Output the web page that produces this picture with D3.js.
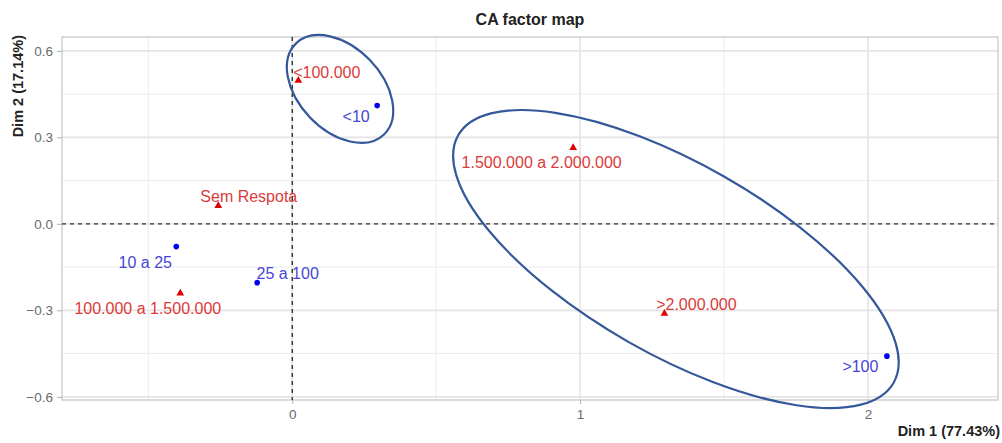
<!DOCTYPE html>
<html>
<head>
<meta charset="utf-8">
<script src="https://cdn.jsdelivr.net/npm/d3@7"></script>
<style>
  body { margin: 0; background: #fff; }
  svg { font-family: "Liberation Sans", Arial, sans-serif; }
  .tick-lbl { fill: #6b6b6b; font-size: 13.5px; }
  .pt-lbl { font-size: 16px; }
</style>
</head>
<body>
<svg id="chart" width="1002" height="443"></svg>
<script>
// rows (blue points)
var rowNames = ["<10", "10 a 25", "25 a 100", ">100"];
var rowX = [0.295, -0.403, -0.122, 2.066];
var rowY = [0.41, -0.079, -0.204, -0.459];

// columns (red triangles)
var colNames = ["<100.000", "Sem Respota", "100.000 a 1.500.000", "1.500.000 a 2.000.000", ">2.000.000"];
var colX = [0.021, -0.257, -0.389, 0.976, 1.293];
var colY = [0.497, 0.063, -0.241, 0.264, -0.311];

var xTicks = [0, 1, 2];
var yTicks = [-0.6, -0.3, 0.0, 0.3, 0.6];
var xMinor = [-0.5, 0.5, 1.5];
var yMinor = [-0.45, -0.15, 0.15, 0.45];

// hand-drawn ellipses, data units
var ellipseCx = [0.166, 1.333];
var ellipseCy = [0.468, -0.122];
var ellipseRx = [0.22, 0.87];
var ellipseRy = [0.144, 0.332];
var ellipseAngle = [46, 29.6];

// label nudges in px (centre x, baseline y) from the point
var rowNudge = [[-21, 16], [-31, 21], [30.5, -4], [-26.5, 16]];
var colNudge = [[28.5, -3], [30.5, -4], [-32.5, 21], [-31.5, 20], [32, -4]];

var svg = d3.select("#chart");
var panel = {left: 62, right: 998, top: 37, bottom: 400};

var x = d3.scaleLinear().domain([-0.8, 2.452]).range([panel.left, panel.right]);
var y = d3.scaleLinear().domain([-0.611, 0.648]).range([panel.bottom, panel.top]);

// grid
var grid = svg.append("g");
function vlines(vals, col, w) {
  grid.append("g").selectAll("line").data(vals).enter().append("line")
    .attr("x1", function(d) { return x(d); }).attr("x2", function(d) { return x(d); })
    .attr("y1", panel.top).attr("y2", panel.bottom)
    .style("stroke", col).style("stroke-width", w);
}
function hlines(vals, col, w) {
  grid.append("g").selectAll("line").data(vals).enter().append("line")
    .attr("y1", function(d) { return y(d); }).attr("y2", function(d) { return y(d); })
    .attr("x1", panel.left).attr("x2", panel.right)
    .style("stroke", col).style("stroke-width", w);
}
vlines(xMinor, "#ececec", 1);
hlines(yMinor, "#ececec", 1);
vlines(xTicks, "#e4e4e4", 1.6);
hlines(yTicks, "#e4e4e4", 1.6);

svg.append("rect")
  .attr("x", panel.left).attr("y", panel.top)
  .attr("width", panel.right - panel.left).attr("height", panel.bottom - panel.top)
  .style("fill", "none").style("stroke", "#c8c8c8").style("stroke-width", 1.3);

// axes
var yAxis = svg.append("g").attr("transform", "translate(" + panel.left + ",0)")
  .call(d3.axisLeft(y).tickValues(yTicks).tickFormat(d3.format(".1f")).tickSize(5).tickPadding(4));
var xAxis = svg.append("g").attr("transform", "translate(0," + panel.bottom + ")")
  .call(d3.axisBottom(x).tickValues(xTicks).tickFormat(d3.format("d")).tickSize(4).tickPadding(5));
[xAxis, yAxis].forEach(function(a) {
  a.select(".domain").remove();
  a.selectAll(".tick line").style("stroke", "#b0b0b0");
  a.selectAll(".tick text").attr("class", "tick-lbl").attr("fill", null)
    .style("font-family", "'Liberation Sans', Arial, sans-serif");
});
yAxis.selectAll(".tick text").attr("x", -9);

// zero lines
svg.append("line")
  .attr("x1", panel.left).attr("x2", panel.right).attr("y1", y(0)).attr("y2", y(0))
  .style("stroke", "#333").style("stroke-width", 1.4).style("stroke-dasharray", "4,4");
svg.append("line")
  .attr("x1", x(0)).attr("x2", x(0)).attr("y1", panel.top).attr("y2", panel.bottom)
  .style("stroke", "#333").style("stroke-width", 1.4).style("stroke-dasharray", "4,4");

// points
svg.append("g").selectAll("circle").data(rowNames).enter().append("circle")
  .attr("cx", function(d, i) { return x(rowX[i]); })
  .attr("cy", function(d, i) { return y(rowY[i]); })
  .attr("r", 2.8)
  .style("fill", "#0000ee");

svg.append("g").selectAll("path").data(colNames).enter().append("path")
  .attr("d", d3.symbol().type(d3.symbolTriangle).size(26))
  .attr("transform", function(d, i) { return "translate(" + x(colX[i]) + "," + y(colY[i]) + ")"; })
  .style("fill", "#e00000");

// labels
svg.append("g").selectAll("text").data(rowNames).enter().append("text")
  .attr("class", "pt-lbl")
  .attr("text-anchor", "middle")
  .attr("x", function(d, i) { return x(rowX[i]) + rowNudge[i][0]; })
  .attr("y", function(d, i) { return y(rowY[i]) + rowNudge[i][1]; })
  .style("fill", "#4646d6")
  .text(function(d) { return d; });

svg.append("g").selectAll("text").data(colNames).enter().append("text")
  .attr("class", "pt-lbl")
  .attr("text-anchor", "middle")
  .attr("x", function(d, i) { return x(colX[i]) + colNudge[i][0]; })
  .attr("y", function(d, i) { return y(colY[i]) + colNudge[i][1]; })
  .style("fill", "#dc3a3a")
  .text(function(d) { return d; });

// ellipses
var k = x(1) - x(0);
svg.append("g").selectAll("ellipse").data(ellipseCx).enter().append("ellipse")
  .attr("transform", function(d, i) {
    return "translate(" + x(ellipseCx[i]) + "," + y(ellipseCy[i]) + ") rotate(" + ellipseAngle[i] + ")";
  })
  .attr("rx", function(d, i) { return ellipseRx[i] * k; })
  .attr("ry", function(d, i) { return ellipseRy[i] * k; })
  .style("fill", "none")
  .style("stroke", "#34589a")
  .style("stroke-width", 2.2);

// titles
svg.append("text")
  .attr("x", (panel.left + panel.right) / 2).attr("y", 25)
  .attr("text-anchor", "middle")
  .attr("font-weight", "bold").attr("font-size", "16px")
  .style("fill", "#222")
  .text("CA factor map");

svg.append("text")
  .attr("x", 1000).attr("y", 436)
  .attr("text-anchor", "end")
  .attr("font-weight", "bold").attr("font-size", "14.5px")
  .style("fill", "#222")
  .text("Dim 1 (77.43%)");

svg.append("text")
  .attr("transform", "translate(23,35) rotate(-90)")
  .attr("text-anchor", "end")
  .attr("font-weight", "bold").attr("font-size", "14.5px")
  .style("fill", "#222")
  .text("Dim 2 (17.14%)");
</script>
</body>
</html>
